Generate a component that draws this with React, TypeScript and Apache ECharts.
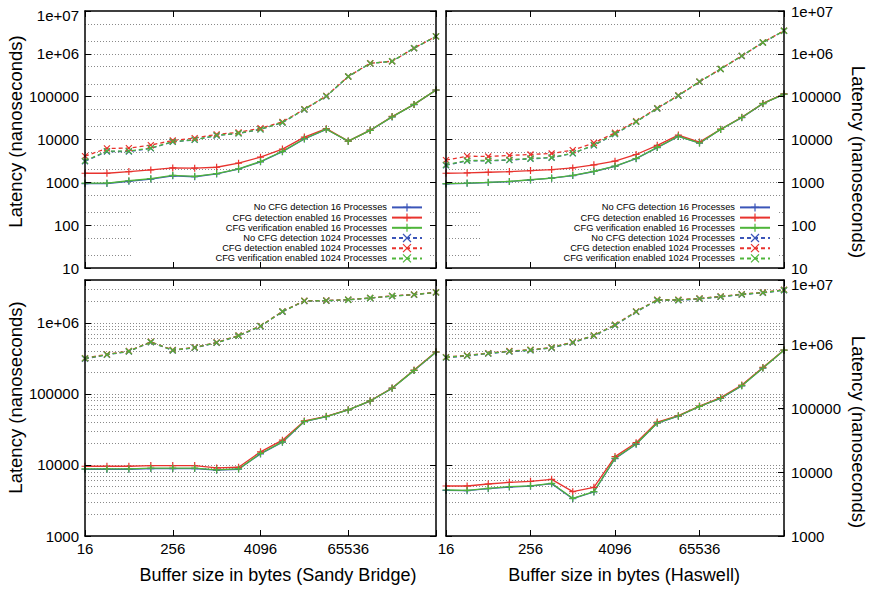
import React, { useEffect, useRef } from 'react';
import * as echarts from 'echarts';

const FONT = 'Liberation Sans, Arial, Helvetica, sans-serif';

const bufferSizes = [16, 32, 64, 128, 256, 512, 1024, 2048, 4096, 8192, 16384, 32768, 65536, 131072, 262144, 524288, 1048576];

const seriesNames = [
  'No CFG detection 16 Processes',
  'CFG detection enabled 16 Processes',
  'CFG verification enabled 16 Processes',
  'No CFG detection 1024 Processes',
  'CFG detection enabled 1024 Processes',
  'CFG verification enabled 1024 Processes',
];
const seriesColors = ['#3b55b8', '#e8332e', '#4fb53a', '#3b55b8', '#e8332e', '#4fb53a'];

// Sandy Bridge, top panel
const sbTopNoCfg16 = [930, 940, 1060, 1190, 1420, 1350, 1570, 2030, 3010, 5200, 10300, 17300, 9100, 16300, 33600, 65500, 142000];
const sbTopDet16 = [1630, 1630, 1780, 1950, 2170, 2140, 2250, 2800, 3870, 5980, 11400, 17900, 9200, 16500, 34500, 66000, 143000];
const sbTopVer16 = [960, 960, 1090, 1220, 1460, 1380, 1600, 2060, 3060, 5270, 10400, 17400, 9140, 16400, 33800, 66000, 143000];
const sbTopNoCfg1024 = [3100, 5250, 5250, 6200, 8800, 9800, 12400, 13900, 17200, 24800, 50000, 102000, 295000, 598000, 668000, 1350000, 2550000];
const sbTopDet1024 = [4090, 6190, 6300, 7420, 9500, 10800, 13200, 14700, 18300, 25800, 51000, 104000, 296000, 603000, 672000, 1360000, 2560000];
const sbTopVer1024 = [3180, 5360, 5360, 6300, 8900, 9900, 12500, 14000, 17300, 25000, 50500, 103000, 295000, 600000, 670000, 1360000, 2560000];

// Haswell, top panel
const hwTopNoCfg16 = [920, 950, 990, 1040, 1140, 1250, 1440, 1790, 2360, 3570, 6480, 11800, 8250, 17100, 32400, 68500, 115000];
const hwTopDet16 = [1630, 1660, 1720, 1780, 1880, 1990, 2170, 2560, 3120, 4470, 7300, 12700, 8700, 17400, 33000, 69500, 116000];
const hwTopVer16 = [930, 960, 1000, 1050, 1150, 1260, 1460, 1810, 2380, 3600, 6540, 11900, 8300, 17200, 32600, 69000, 115000];
const hwTopNoCfg1024 = [2500, 3180, 3180, 3300, 3550, 3750, 4750, 7300, 13400, 25800, 53000, 105000, 222000, 440000, 890000, 1830000, 3440000];
const hwTopDet1024 = [3290, 4090, 4010, 4240, 4470, 4720, 5660, 8300, 14400, 26800, 54000, 107000, 225000, 444000, 897000, 1850000, 3470000];
const hwTopVer1024 = [2560, 3230, 3230, 3350, 3600, 3800, 4800, 7400, 13600, 26000, 53500, 106000, 224000, 442000, 895000, 1840000, 3450000];

// Sandy Bridge, bottom panel
const sbBotNoCfg16 = [8700, 8700, 8700, 8900, 8900, 8900, 8450, 8700, 14300, 20900, 40700, 47800, 59300, 79200, 119500, 213000, 386000];
const sbBotDet16 = [9580, 9580, 9580, 9790, 9790, 9790, 9080, 9280, 15300, 22300, 41600, 48300, 59800, 79900, 121000, 216000, 390000];
const sbBotVer16 = [8790, 8790, 8790, 8990, 8990, 8990, 8520, 8790, 14500, 21100, 41000, 48000, 59500, 79500, 120000, 214000, 388000];
const sbBotNoCfg1024 = [312000, 354000, 395000, 533000, 408000, 445000, 522000, 653000, 892000, 1430000, 2020000, 2040000, 2100000, 2220000, 2370000, 2480000, 2670000];
const sbBotDet1024 = [318000, 360000, 401000, 541000, 414000, 451000, 530000, 663000, 904000, 1450000, 2040000, 2060000, 2120000, 2240000, 2390000, 2500000, 2690000];
const sbBotVer1024 = [315000, 357000, 398000, 537000, 411000, 448000, 526000, 658000, 898000, 1440000, 2030000, 2050000, 2110000, 2230000, 2380000, 2490000, 2680000];

// Haswell, bottom panel
const hwBotNoCfg16 = [5150, 5100, 5480, 5820, 6010, 6560, 3830, 4870, 16200, 27100, 58000, 74600, 105500, 141000, 222000, 420000, 798000];
const hwBotDet16 = [6040, 6040, 6490, 6900, 7150, 7670, 4930, 5760, 17400, 28700, 60400, 75900, 107000, 145000, 228000, 431000, 805000];
const hwBotVer16 = [5230, 5170, 5560, 5900, 6090, 6650, 3880, 4930, 16400, 27400, 58400, 75000, 106000, 142000, 223000, 422000, 800000];
const hwBotNoCfg1024 = [612000, 651000, 708000, 760000, 797000, 868000, 1050000, 1340000, 1960000, 3170000, 4830000, 4830000, 5060000, 5450000, 5910000, 6280000, 6910000];
const hwBotDet1024 = [625000, 665000, 722000, 776000, 813000, 886000, 1070000, 1360000, 2000000, 3230000, 4920000, 4910000, 5160000, 5550000, 6030000, 6400000, 7050000];
const hwBotVer1024 = [619000, 658000, 715000, 768000, 805000, 877000, 1060000, 1350000, 1980000, 3200000, 4870000, 4870000, 5110000, 5500000, 5970000, 6340000, 6980000];

// dotted grid levels
const topGridLevels = [20, 50, 100, 200, 500, 1000, 2000, 5000, 10000, 20000, 50000, 100000, 200000, 500000, 1000000, 2000000, 5000000];
const bottomGridLevels = [
  2000, 3000, 4000, 5000, 6000, 7000, 8000, 9000,
  10000, 20000, 30000, 40000, 50000, 60000, 70000, 80000, 90000,
  100000, 200000, 300000, 400000, 500000, 600000, 700000, 800000, 900000,
  1000000, 2000000, 3000000,
];

const xTitles = ['Buffer size in bytes (Sandy Bridge)', 'Buffer size in bytes (Haswell)'];
const yTitle = 'Latency (nanoseconds)';

const fmtY = (v: number) => {
  const e = Math.round(Math.log10(v));
  if (Math.abs(v / Math.pow(10, e) - 1) > 1e-6) return '';
  return e >= 6 ? '1e+0' + e : String(Math.round(Math.pow(10, e)));
};
const fmtYShiftTop = (v: number) => {
  const s = fmtY(v);
  return s === '1e+07' ? '{m|' + s + '}' : s;
};
const fmtX = (v: number) => (v > 70000 ? '' : String(Math.round(v)));

const lineAx = { show: true, onZero: false, lineStyle: { color: '#000', width: 1.5 } };
const tickAx = { show: true, inside: true, length: 6, lineStyle: { color: '#000', width: 1 } };

function buildOption() {
  const grids = [
    { left: 85, top: 11, width: 351, height: 257 },
    { left: 446, top: 11, width: 338, height: 257 },
    { left: 85, top: 280, width: 351, height: 256 },
    { left: 446, top: 280, width: 338, height: 256 },
  ];
  const panels = [
    { data: [sbTopNoCfg16, sbTopDet16, sbTopVer16, sbTopNoCfg1024, sbTopDet1024, sbTopVer1024], gridMin: 10, gridMax: 1e7, dataMin: 10, dataMax: 1e7, levels: topGridLevels, bottom: false, right: false, topShift: 8 },
    { data: [hwTopNoCfg16, hwTopDet16, hwTopVer16, hwTopNoCfg1024, hwTopDet1024, hwTopVer1024], gridMin: 10, gridMax: 1e7, dataMin: 10, dataMax: 1e7, levels: topGridLevels, bottom: false, right: true, topShift: 0 },
    { data: [sbBotNoCfg16, sbBotDet16, sbBotVer16, sbBotNoCfg1024, sbBotDet1024, sbBotVer1024], gridMin: 1000, gridMax: 4e6, dataMin: 1000, dataMax: 4e6, levels: bottomGridLevels, bottom: true, right: false, topShift: 0 },
    { data: [hwBotNoCfg16, hwBotDet16, hwBotVer16, hwBotNoCfg1024, hwBotDet1024, hwBotVer1024], gridMin: 1000, gridMax: 4e6, dataMin: 1000, dataMax: 1e7, levels: bottomGridLevels, bottom: true, right: true, topShift: 8 },
  ];

  const xAxis: any[] = [];
  const yAxis: any[] = [];
  const series: any[] = [];

  panels.forEach((p, gi) => {
    const xBase = {
      type: 'log', logBase: 2, min: 16, max: 1048576, interval: 4, gridIndex: gi, z: 6,
      axisLine: lineAx, axisTick: tickAx, splitLine: { show: false }, minorTick: { show: false },
    };
    const xi = xAxis.length;
    xAxis.push({
      ...xBase, position: 'bottom',
      axisLabel: { show: p.bottom, margin: 5, fontSize: 15, color: '#000', fontFamily: FONT, formatter: fmtX, showMinLabel: true, showMaxLabel: true },
      name: p.bottom ? xTitles[gi - 2] : '', nameLocation: 'middle', nameGap: 30,
      nameTextStyle: { fontSize: 18, color: '#000', fontFamily: FONT, padding: [0, 0, 0, gi === 2 ? 35 : 18] },
    });
    xAxis.push({ ...xBase, position: 'top', axisLabel: { show: false } });

    const yBase = {
      type: 'log', logBase: 10, interval: 1, gridIndex: gi, z: 6,
      axisLine: lineAx, axisTick: tickAx, splitLine: { show: false }, minorTick: { show: false },
    };
    const labelBase = {
      fontSize: 15, color: '#000', fontFamily: FONT,
      formatter: p.topShift ? fmtYShiftTop : fmtY,
      rich: { m: { fontSize: 15, color: '#000', fontFamily: FONT, padding: [p.topShift, 0, 0, 0] } },
      showMinLabel: true, showMaxLabel: true,
    };
    const yl = yAxis.length;
    yAxis.push({
      ...yBase, position: 'left', min: p.gridMin, max: p.gridMax,
      axisLabel: { ...labelBase, show: !p.right, margin: 6 },
      name: p.right ? '' : yTitle, nameLocation: 'middle', nameGap: 59, nameRotate: 90,
      nameTextStyle: { fontSize: 18.5, color: '#000', fontFamily: FONT, padding: [0, 0, 0, gi === 0 ? 16 : 21] },
    });
    const yr = yAxis.length;
    yAxis.push({
      ...yBase, position: 'right', min: p.dataMin, max: p.dataMax,
      axisLabel: { ...labelBase, show: p.right, margin: 7 },
      name: p.right ? yTitle : '', nameLocation: 'middle', nameGap: 65, nameRotate: -90,
      nameTextStyle: { fontSize: 18.5, color: '#000', fontFamily: FONT, padding: [0, 0, 0, gi === 1 ? 45 : 48] },
    });

    // dotted grid lines through the left axis scale
    series.push({
      type: 'line', xAxisIndex: xi, yAxisIndex: yl, data: [], silent: true,
      markLine: {
        silent: true, z: 1, symbol: ['none', 'none'], label: { show: false },
        lineStyle: { type: [1, 2], color: '#8a8a8a', width: 1 },
        emphasis: { disabled: true },
        data: p.levels.map((v) => ({ yAxis: v })),
      },
    });

    p.data.forEach((vals, si) => {
      const c = seriesColors[si];
      const dashed = si >= 3;
      series.push({
        type: 'line', name: seriesNames[si], xAxisIndex: xi, yAxisIndex: p.right ? yr : yl,
        data: bufferSizes.map((x, i) => [x, vals[i]]),
        symbol: dashed ? 'path://M0,0L10,10M10,0L0,10' : 'path://M0,5L10,5M5,0L5,10',
        symbolSize: dashed ? 6 : 7,
        showSymbol: true,
        lineStyle: { color: c, width: 1.3, type: dashed ? [4, 3] : 'solid' },
        itemStyle: { color: c, borderColor: c, borderWidth: 1.2 },
        emphasis: { disabled: true },
        silent: true, z: 2,
      });
    });
  });

  const legendBase = {
    data: seriesNames, orient: 'vertical', align: 'right', bottom: 321, z: 4,
    backgroundColor: '#fff', padding: [1, 7, 5, 83], itemWidth: 30, itemHeight: 10, itemGap: 1,
    selectedMode: false,
    itemStyle: { borderWidth: 1.2 },
    textStyle: { fontSize: 9.3, color: '#000', fontFamily: FONT },
  };

  return {
    animation: false,
    backgroundColor: '#fff',
    textStyle: { fontFamily: FONT },
    grid: grids,
    xAxis, yAxis, series,
    legend: [
      { ...legendBase, right: 444 },
      { ...legendBase, right: 96 },
    ],
  };
}

export default function App() {
  const ref = useRef<HTMLDivElement>(null);
  useEffect(() => {
    if (!ref.current) return;
    const chart = echarts.init(ref.current, null, { renderer: 'svg' });
    chart.setOption(buildOption() as any);
    return () => chart.dispose();
  }, []);
  return (
    <div
      ref={ref}
      style={{ position: 'fixed', left: 0, top: 0, width: 874, height: 589, background: '#fff' }}
    />
  );
}
